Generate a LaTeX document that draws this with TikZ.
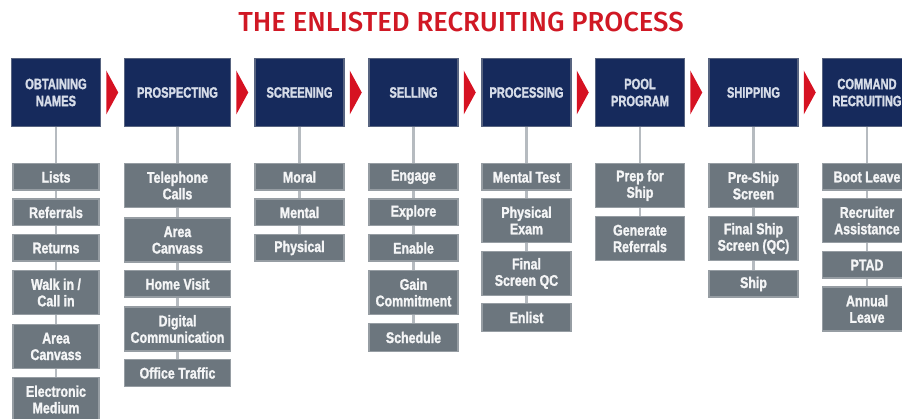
\documentclass[tikz,border=0pt]{standalone}
\usepackage{fontspec}
\setmainfont{Liberation Sans}
\newfontfamily\headfont{Liberation Sans}[UprightFont={* Bold}, FakeStretch=0.74, FakeBold=1.6]
\newfontfamily\taskfont{Liberation Sans}[UprightFont={* Bold}, FakeStretch=0.8, FakeBold=1.4]
\newfontfamily\titlefont{Fira Sans}[UprightFont={* Medium}]

\definecolor{titlered}{RGB}{208,24,36}
\definecolor{arrowred}{RGB}{214,18,34}
\definecolor{stagenavy}{RGB}{22,42,92}
\definecolor{stageedge}{RGB}{88,100,128}
\definecolor{stagetext}{RGB}{214,220,232}
\definecolor{taskgray}{RGB}{108,118,126}
\definecolor{taskedge}{RGB}{150,157,163}
\definecolor{tasktext}{RGB}{244,245,246}
\definecolor{linkgray}{RGB}{182,187,192}

\tikzset{every picture/.style={line width=0.75pt}}
\tikzset{
	stage/.style={draw=stageedge, line width=1.5pt, fill=stagenavy, text=stagetext, font=\headfont\fontsize{15}{17}\selectfont, align=center, inner sep=0pt, minimum width=89pt, minimum height=68pt},
	task/.style={draw=taskedge, line width=1.5pt, fill=taskgray, text=tasktext, font=\taskfont\fontsize{15.5}{16.5}\selectfont, align=center, inner sep=0pt, minimum width=89pt, minimum height=26.5pt},
	tall/.style={minimum height=44pt},
	link/.style={draw=linkgray, line width=2.2pt},
	chevron/.style={fill=arrowred, draw=none},
}

\begin{document}
\begin{tikzpicture}[x=1pt,y=1pt,yscale=-1,xscale=1]
	\useasboundingbox (0,0) rectangle (902,419);
	\clip (0,0) rectangle (902,419);

	% Title
	\node[text=titlered, font=\titlefont\fontsize{27.5}{30}\selectfont] (title) at (461,22.5) {THE ENLISTED RECRUITING PROCESS};

	% Stages
	\node[stage] (obt) at (56,92.5) {OBTAINING\\NAMES};
	\node[stage, minimum width=106pt] (pro) at (177.5,92.5) {PROSPECTING};
	\node[stage] (scr) at (299.5,92.5) {SCREENING};
	\node[stage] (sel) at (413.5,92.5) {SELLING};
	\node[stage] (prc) at (526.5,92.5) {PROCESSING};
	\node[stage] (pol) at (640,92.5) {POOL\\PROGRAM};
	\node[stage] (shp) at (753.5,92.5) {SHIPPING};
	\node[stage] (cmd) at (867,92.5) {COMMAND\\RECRUITING};

	% Chevrons between stages
	\fill[chevron] ([xshift=5pt,yshift=-22pt]obt.east) -- ([xshift=17pt]obt.east) -- ([xshift=5pt,yshift=22pt]obt.east) -- cycle;
	\fill[chevron] ([xshift=5pt,yshift=-22pt]pro.east) -- ([xshift=17pt]pro.east) -- ([xshift=5pt,yshift=22pt]pro.east) -- cycle;
	\fill[chevron] ([xshift=5pt,yshift=-22pt]scr.east) -- ([xshift=17pt]scr.east) -- ([xshift=5pt,yshift=22pt]scr.east) -- cycle;
	\fill[chevron] ([xshift=5pt,yshift=-22pt]sel.east) -- ([xshift=17pt]sel.east) -- ([xshift=5pt,yshift=22pt]sel.east) -- cycle;
	\fill[chevron] ([xshift=5pt,yshift=-22pt]prc.east) -- ([xshift=17pt]prc.east) -- ([xshift=5pt,yshift=22pt]prc.east) -- cycle;
	\fill[chevron] ([xshift=5pt,yshift=-22pt]pol.east) -- ([xshift=17pt]pol.east) -- ([xshift=5pt,yshift=22pt]pol.east) -- cycle;
	\fill[chevron] ([xshift=5pt,yshift=-22pt]shp.east) -- ([xshift=17pt]shp.east) -- ([xshift=5pt,yshift=22pt]shp.east) -- cycle;

	% Obtaining names
	\node[task, minimum width=86pt] (obt1) at (56,177) {Lists};
	\node[task, minimum width=86pt] (obt2) at (56,212.5) {Referrals};
	\node[task, minimum width=86pt] (obt3) at (56,248) {Returns};
	\node[task, tall, minimum width=86pt] (obt4) at (56,292.5) {Walk in /\\Call in};
	\node[task, tall, minimum width=86pt] (obt5) at (56,346.5) {Area\\Canvass};
	\node[task, tall, minimum width=86pt] (obt6) at (56,399.5) {Electronic\\Medium};

	% Prospecting
	\node[task, tall, minimum width=106pt] (pro1) at (177.5,185.5) {Telephone\\Calls};
	\node[task, tall, minimum width=106pt] (pro2) at (177.5,240) {Area\\Canvass};
	\node[task, minimum width=106pt] (pro3) at (177.5,284) {Home Visit};
	\node[task, tall, minimum width=106pt] (pro4) at (177.5,329) {Digital\\Communication};
	\node[task, minimum width=106pt] (pro5) at (177.5,373) {Office Traffic};

	% Screening
	\node[task] (scr1) at (299.5,177) {Moral};
	\node[task] (scr2) at (299.5,212.5) {Mental};
	\node[task] (scr3) at (299.5,248) {Physical};

	% Selling
	\node[task] (sel1) at (413.5,177) {Engage};
	\node[task] (sel2) at (413.5,212.5) {Explore};
	\node[task] (sel3) at (413.5,248) {Enable};
	\node[task, tall] (sel4) at (413.5,292.5) {Gain\\Commitment};
	\node[task, minimum height=28pt] (sel5) at (413.5,337.5) {Schedule};

	% Processing
	\node[task] (prc1) at (526.5,177) {Mental Test};
	\node[task, tall] (prc2) at (526.5,220.5) {Physical\\Exam};
	\node[task, tall] (prc3) at (526.5,273.5) {Final\\Screen QC};
	\node[task, minimum height=28pt] (prc4) at (526.5,317.5) {Enlist};

	% Pool program
	\node[task, tall] (pol1) at (640,185.5) {Prep for\\Ship};
	\node[task, tall] (pol2) at (640,238.5) {Generate\\Referrals};

	% Shipping
	\node[task, tall] (shp1) at (753.5,185.5) {Pre-Ship\\Screen};
	\node[task, tall] (shp2) at (753.5,238.5) {Final Ship\\Screen (QC)};
	\node[task] (shp3) at (753.5,284) {Ship};

	% Command recruiting
	\node[task] (cmd1) at (867,177) {Boot Leave};
	\node[task, tall] (cmd2) at (867,220.5) {Recruiter\\Assistance};
	\node[task] (cmd3) at (867,265) {PTAD};
	\node[task, tall] (cmd4) at (867,309) {Annual\\Leave};

	% Vertical links
	\draw[link] (obt) -- (obt1) -- (obt2) -- (obt3) -- (obt4) -- (obt5) -- (obt6);
	\draw[link] (pro) -- (pro1) -- (pro2) -- (pro3) -- (pro4) -- (pro5);
	\draw[link] (scr) -- (scr1) -- (scr2) -- (scr3);
	\draw[link] (sel) -- (sel1) -- (sel2) -- (sel3) -- (sel4) -- (sel5);
	\draw[link] (prc) -- (prc1) -- (prc2) -- (prc3) -- (prc4);
	\draw[link] (pol) -- (pol1) -- (pol2);
	\draw[link] (shp) -- (shp1) -- (shp2) -- (shp3);
	\draw[link] (cmd) -- (cmd1) -- (cmd2) -- (cmd3) -- (cmd4);

\end{tikzpicture}
\end{document}
